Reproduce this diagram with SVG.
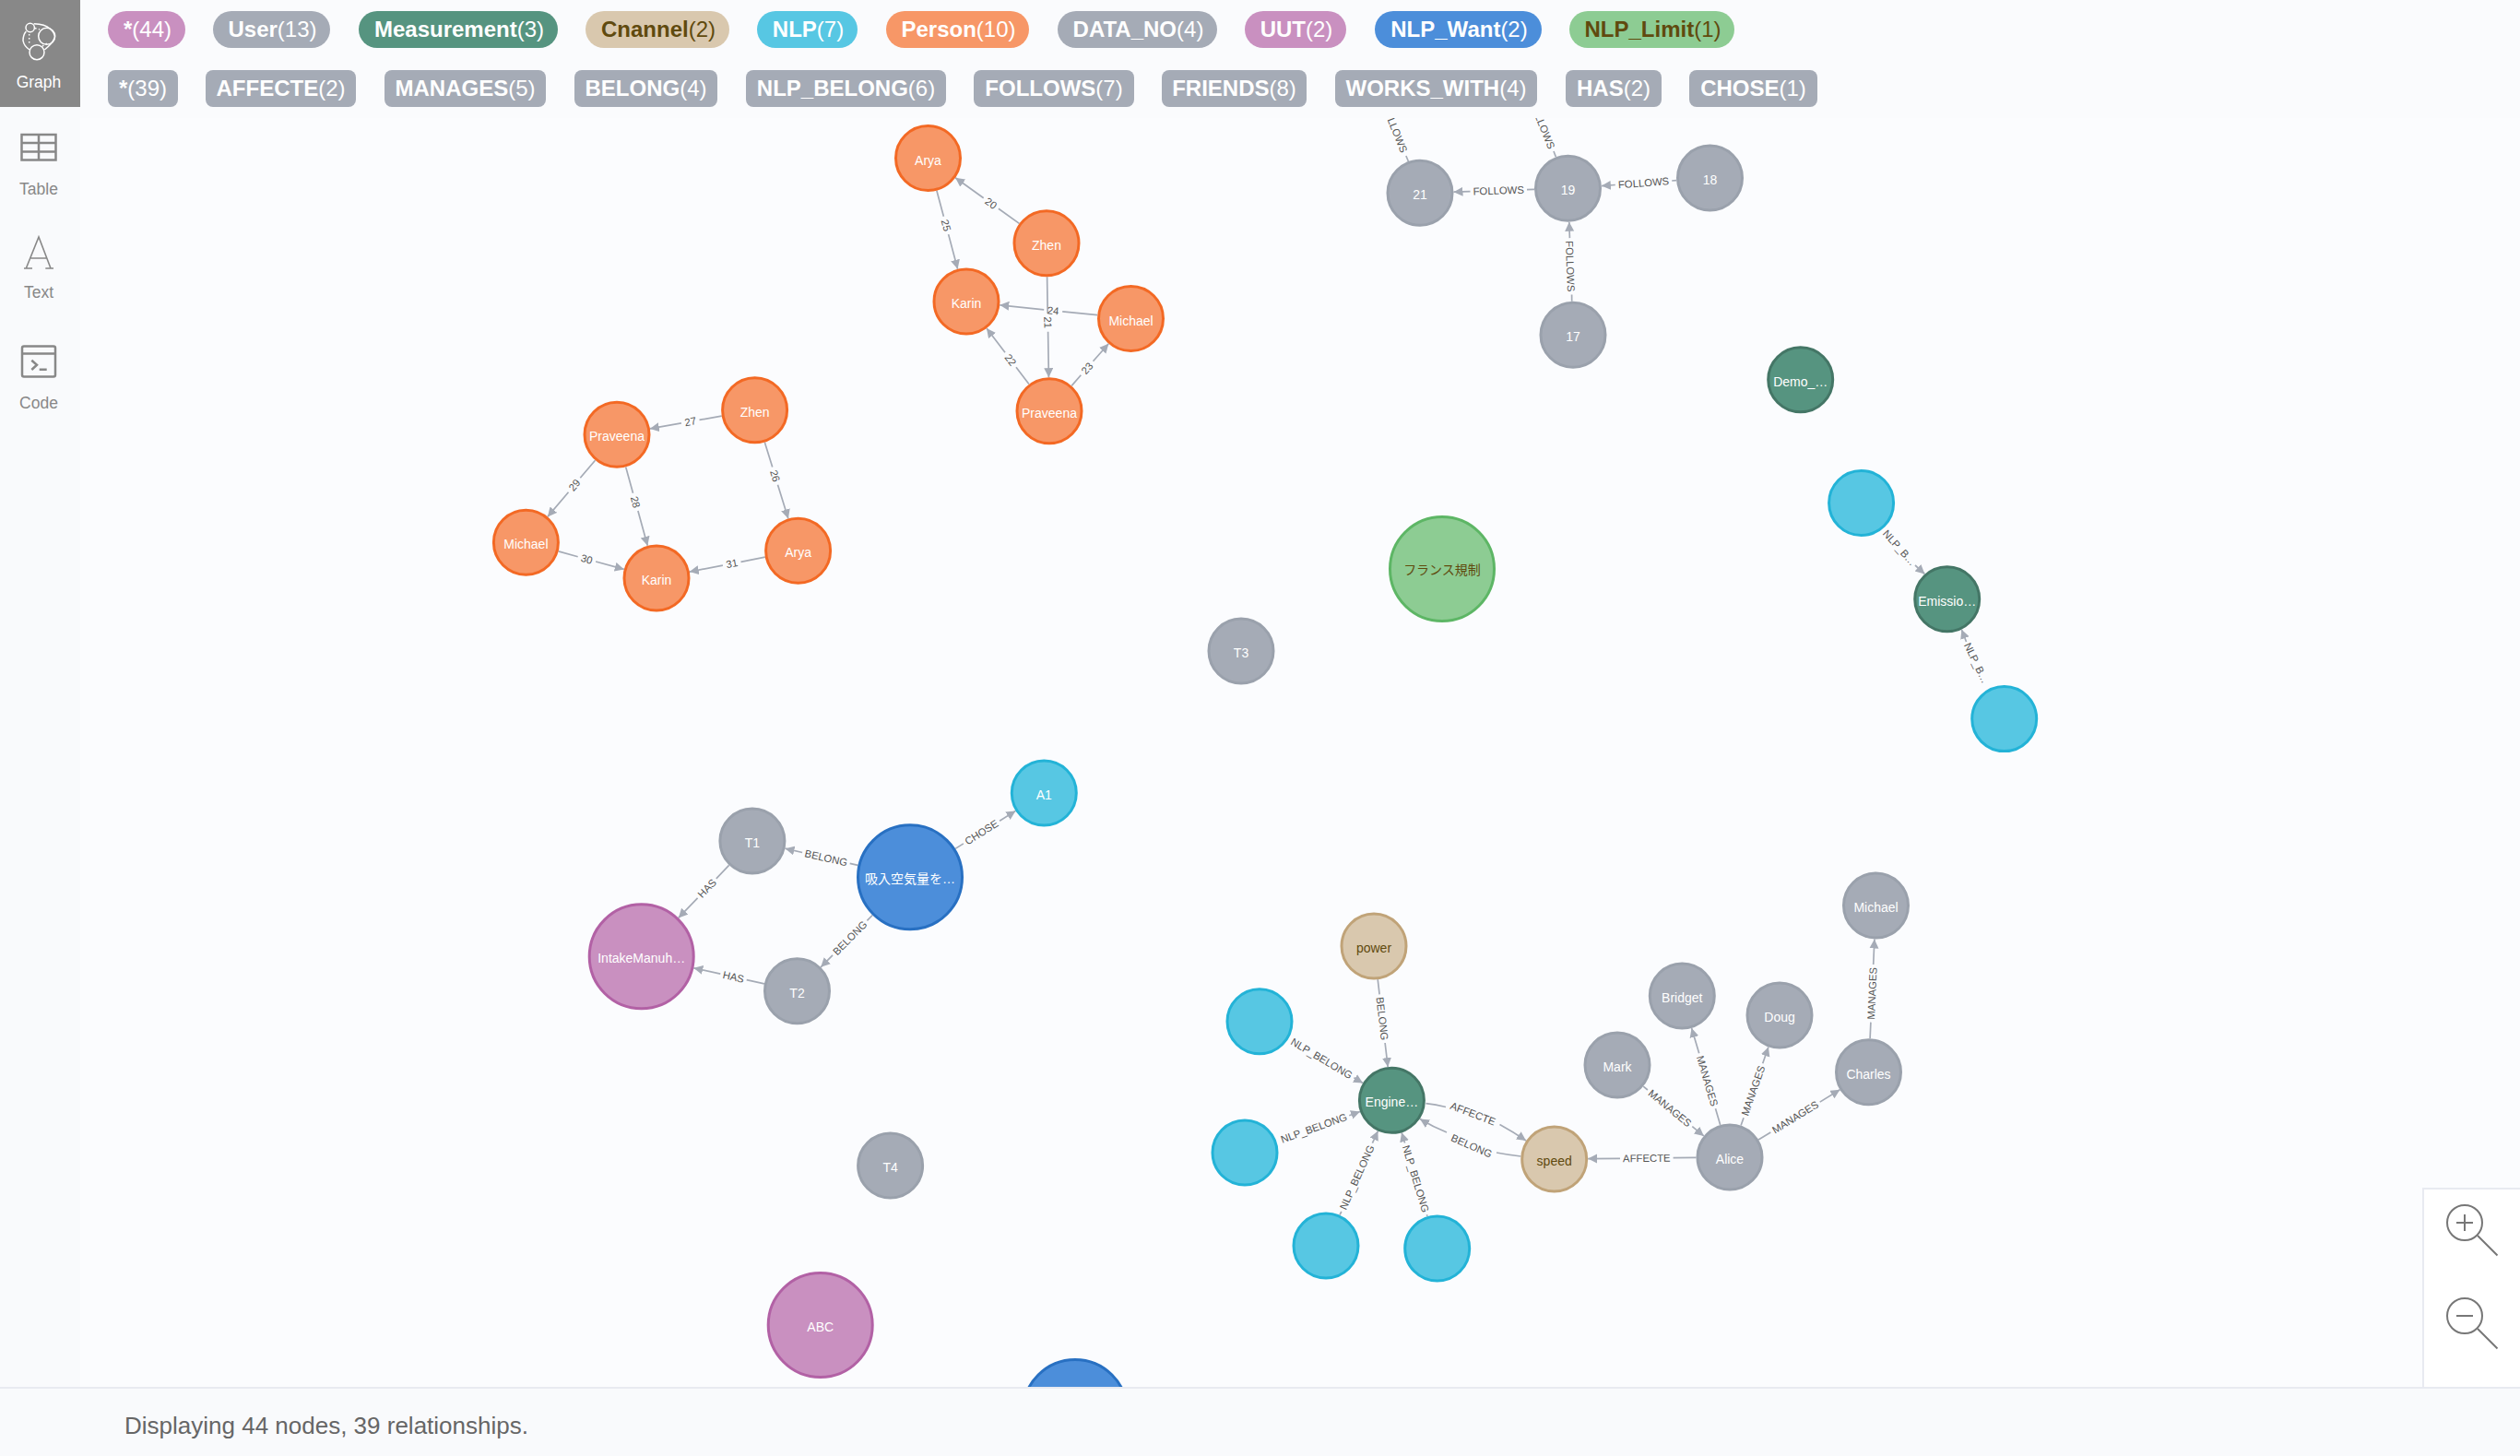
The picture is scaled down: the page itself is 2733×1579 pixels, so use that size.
<svg xmlns="http://www.w3.org/2000/svg" width="2733" height="1579" viewBox="0 0 2733 1579">
<style>
text{font-family:"Liberation Sans","Noto Sans CJK JP",Arial,sans-serif}
.n text{font-size:14px;text-anchor:middle;fill:#fff}
.n circle{stroke-width:3}
.user circle{fill:#A5ABB6;stroke:#9AA1AC}
.person circle{fill:#F79767;stroke:#F36924}
.meas circle{fill:#569480;stroke:#447666}
.nlp circle{fill:#57C7E3;stroke:#23B3D7}
.uut circle{fill:#C990C0;stroke:#B261A5}
.want circle{fill:#4C8EDA;stroke:#2870C2}
.limit circle{fill:#8DCC93;stroke:#5DB665}
.chan circle{fill:#D9C8AE;stroke:#C0A378}
.limit text,.chan text{fill:#604A0E}
#connectors path{fill:none;stroke:#A5ABB6;stroke-width:1.7;marker-end:url(#arr)}
#connectors path.stub{marker-end:none}
#connectors text{font-size:11.3px;text-anchor:middle;fill:#555}
.pill text{font-size:24px;text-anchor:middle;fill:#fff}
.pill tspan{font-weight:bold}
.pill.dark text{fill:#604A0E}
.nav text{font-size:17.5px;text-anchor:middle;fill:#888}
.ico{fill:none;stroke:#888;stroke-width:2.5}
.zm{fill:none;stroke:#777;stroke-width:2}
</style>
<defs>
<marker id="arr" markerUnits="userSpaceOnUse" markerWidth="11" markerHeight="11" refX="10" refY="5" orient="auto"><path d="M0 0L10 5L0 10Z" fill="#A5ABB6"/></marker>
<clipPath id="view"><rect x="87" y="128" width="2646" height="1376"/></clipPath>
</defs>
<rect id="canvas" width="2733" height="1579" fill="#fbfcfe"/>
<g id="graph" clip-path="url(#view)">
<g id="connectors">
<path d="M1105.4 242.4L1082.9 226.3M1066.7 214.7L1036.1 192.8"/><text x="1074.8" y="224.5" transform="rotate(35.7 1074.8 220.5)">20</text>
<path d="M1015.9 206.8L1023.4 234.7M1028.6 254.1L1038.6 291.7"/><text x="1026" y="248.4" transform="rotate(75 1026 244.4)">25</text>
<path d="M1135.6 300.2L1136.2 339.7M1136.6 359.7L1137.4 409.2"/><text x="1136.4" y="353.7" transform="rotate(89 1136.4 349.7)">21</text>
<path d="M1190.2 341.7L1152.2 337.8M1132.2 335.8L1084.3 330.8"/><text x="1142.2" y="340.8" transform="rotate(5.9 1142.2 336.8)">24</text>
<path d="M1115.9 416.6L1102 398.3M1090 382.3L1070 356.1"/><text x="1096" y="394.3" transform="rotate(52.8 1096 390.3)">22</text>
<path d="M1162.2 418.4L1172.3 406.8M1185.5 391.8L1202.3 372.8"/><text x="1178.9" y="403.3" transform="rotate(-48.5 1178.9 399.3)">23</text>
<path d="M782.7 451.1L758.5 455.4M738.9 458.9L704.9 464.9"/><text x="748.7" y="461.1" transform="rotate(-10.1 748.7 457.1)">27</text>
<path d="M829.3 479.6L837.7 506.6M843.5 525.8L854.9 562.4"/><text x="840.6" y="520.2" transform="rotate(72.9 840.6 516.2)">26</text>
<path d="M678.7 506.5L686.5 534.8M691.9 554L702.3 591.8"/><text x="689.2" y="548.4" transform="rotate(74.6 689.2 544.4)">28</text>
<path d="M645.5 499.2L629.3 518.3M616.5 533.7L593.9 560.4"/><text x="622.9" y="530" transform="rotate(-49.9 622.9 526)">29</text>
<path d="M605.6 597.9L626.7 603.8M646.1 609L676.8 617.4"/><text x="636.4" y="610.4" transform="rotate(15.3 636.4 606.4)">30</text>
<path d="M829.8 604.2L803.5 609.3M783.9 613.1L747.8 620.1"/><text x="793.7" y="615.2" transform="rotate(-10.9 793.7 611.2)">31</text>
<path d="M1664 205.4L1656 205.6M1594.5 207.6L1576.5 208.2"/><text x="1625.2" y="210.6" transform="rotate(-1.8 1625.2 206.6)">FOLLOWS</text>
<path d="M1818.1 195.7L1813.2 196M1751.8 200.5L1736.9 201.6"/><text x="1782.5" y="202.3" transform="rotate(-4.2 1782.5 198.3)">FOLLOWS</text>
<path d="M1704.7 326.8L1704.6 319.5M1702.4 258.1L1701.8 240.8"/><text x="1703" y="292.8" transform="rotate(88 1703 288.8)">FOLLOWS</text>
<path class="stub" d="M1527.4 175L1524.9 169"/><text x="1512.6" y="143.3" transform="rotate(68 1512.6 139.3)">FOLLOWS</text>
<path class="stub" d="M1687.3 170L1685 164"/><text x="1672.6" y="139.3" transform="rotate(68 1672.6 135.3)">FOLLOWS</text>
<path d="M2077 613L2087.4 622.5"/><text x="2060" y="598" transform="rotate(48.2 2060 594)">NLP_B…</text>
<path d="M2132.5 696L2127.4 682.7"/><text x="2143.5" y="723" transform="rotate(64.5 2143.5 719)">NLP_B…</text>
<path d="M930.5 938.3L921.7 936.3M870.1 924.5L851.5 920.2"/><text x="895.9" y="934.4" transform="rotate(12.9 895.9 930.4)">BELONG</text>
<path d="M946.2 992.5L940.4 998.3M903 1035.9L890.2 1048.8"/><text x="921.7" y="1021.1" transform="rotate(-45.2 921.7 1017.1)">BELONG</text>
<path d="M1036.1 920.4L1044.9 914.9M1084.1 890.3L1101.4 879.4"/><text x="1064.5" y="906.6" transform="rotate(-32.1 1064.5 902.6)">CHOSE</text>
<path d="M790.6 938.4L776.8 952.8M756.6 973.8L735.8 995.4"/><text x="766.7" y="967.3" transform="rotate(-46.2 766.7 963.3)">HAS</text>
<path d="M828.9 1066.8L809.7 1062.6M781.3 1056.2L752.3 1049.8"/><text x="795.5" y="1063.4" transform="rotate(12.5 795.5 1059.4)">HAS</text>
<path d="M1494.2 1062.2L1496.1 1078.4M1502.1 1131L1505.2 1157.1"/><text x="1499.1" y="1108.7" transform="rotate(83.4 1499.1 1104.7)">BELONG</text>
<path d="M1468.4 1168.8L1478 1174.6"/><text x="1433.4" y="1151.9" transform="rotate(30.8 1433.4 1147.9)">NLP_BELONG</text>
<path d="M1463.3 1209.7L1475 1205.5"/><text x="1425" y="1227.3" transform="rotate(-19.6 1425 1223.3)">NLP_BELONG</text>
<path d="M1453 1317.7L1454.8 1313.8M1488.4 1239.6L1494.4 1226.6"/><text x="1471.6" y="1280.7" transform="rotate(-65.6 1471.6 1276.7)">NLP_BELONG</text>
<path d="M1548 1319.1L1547.4 1317.3M1523.6 1239.5L1520.1 1228.2"/><text x="1535.5" y="1282.4" transform="rotate(73 1535.5 1278.4)">NLP_BELONG</text>
<path d="M1546.4 1196.7Q1557 1197.8 1568 1200.5M1626.5 1219.5Q1642 1228 1655 1237"/><text x="1597.4" y="1211.7" transform="rotate(20.8 1597.4 1207.7)">AFFECTE</text>
<path d="M1649.5 1254Q1636 1252.5 1623 1250M1569 1228Q1554 1222 1540 1213.5"/><text x="1596" y="1246.7" transform="rotate(23.8 1596 1242.7)">BELONG</text>
<path d="M1839.5 1255.4L1814.6 1255.7M1757 1256.3L1722.2 1256.6"/><text x="1785.8" y="1260" transform="rotate(-0.6 1785.8 1256)">AFFECTE</text>
<path d="M1782.2 1178.1L1786.9 1182M1835.3 1221.6L1847.8 1231.9"/><text x="1811.1" y="1205.8" transform="rotate(39.3 1811.1 1201.8)">MANAGES</text>
<path d="M1865.7 1220L1860.5 1202.3M1842.7 1142.3L1834.6 1115"/><text x="1851.6" y="1176.3" transform="rotate(73.5 1851.6 1172.3)">MANAGES</text>
<path d="M1888.1 1220.5L1891 1212.2M1911.7 1153.2L1917.9 1135.5"/><text x="1901.3" y="1186.7" transform="rotate(-70.7 1901.3 1182.7)">MANAGES</text>
<path d="M1907.1 1235.9L1920.3 1227.9M1973.7 1195.1L1995.4 1181.8"/><text x="1947" y="1215.5" transform="rotate(-31.5 1947 1211.5)">MANAGES</text>
<path d="M2028.1 1126.2L2028.9 1108.6M2031.7 1046L2032.9 1018.5"/><text x="2030.3" y="1081.3" transform="rotate(-87.5 2030.3 1077.3)">MANAGES</text>
</g>
<g id="nodes">
<g id="n-arya1" class="n person"><circle cx="1006.5" cy="171.5" r="35"/><text x="1006.5" y="178.500">Arya</text></g>
<g id="n-zhen1" class="n person"><circle cx="1135" cy="263.7" r="35"/><text x="1135" y="270.7">Zhen</text></g>
<g id="n-karin1" class="n person"><circle cx="1048" cy="327" r="35"/><text x="1048" y="334">Karin</text></g>
<g id="n-michael1" class="n person"><circle cx="1226.5" cy="345.5" r="35"/><text x="1226.5" y="352.5">Michael</text></g>
<g id="n-praveena1" class="n person"><circle cx="1138" cy="445.7" r="35"/><text x="1138" y="452.7">Praveena</text></g>
<g id="n-zhen2" class="n person"><circle cx="818.6" cy="444.7" r="35"/><text x="818.6" y="451.7">Zhen</text></g>
<g id="n-praveena2" class="n person"><circle cx="669" cy="471.3" r="35"/><text x="669" y="478.3">Praveena</text></g>
<g id="n-michael2" class="n person"><circle cx="570.4" cy="588.3" r="35"/><text x="570.4" y="595.3">Michael</text></g>
<g id="n-karin2" class="n person"><circle cx="712" cy="627" r="35"/><text x="712" y="634">Karin</text></g>
<g id="n-arya2" class="n person"><circle cx="865.6" cy="597.3" r="35"/><text x="865.6" y="604.3">Arya</text></g>
<g id="n-21" class="n user"><circle cx="1540" cy="209.3" r="35"/><text x="1540" y="216.3">21</text></g>
<g id="n-19" class="n user"><circle cx="1700.5" cy="204.3" r="35"/><text x="1700.5" y="211.3">19</text></g>
<g id="n-18" class="n user"><circle cx="1854.5" cy="193" r="35"/><text x="1854.5" y="200">18</text></g>
<g id="n-17" class="n user"><circle cx="1706" cy="363.3" r="35"/><text x="1706" y="370.3">17</text></g>
<g id="n-demo" class="n meas"><circle cx="1952.7" cy="411.7" r="35"/><text x="1952.7" y="418.7">Demo_…</text></g>
<g id="n-nlp1" class="n nlp"><circle cx="2018.6" cy="545.5" r="35"/></g>
<g id="n-emission" class="n meas"><circle cx="2111.7" cy="649.7" r="35"/><text x="2111.7" y="656.7">Emissio…</text></g>
<g id="n-nlp2" class="n nlp"><circle cx="2173.7" cy="779.6" r="35"/></g>
<g id="n-france" class="n limit"><circle cx="1564" cy="617" r="56.5"/><text x="1564" y="623">フランス規制</text></g>
<g id="n-t3" class="n user"><circle cx="1346" cy="706" r="35"/><text x="1346" y="713">T3</text></g>
<g id="n-a1" class="n nlp"><circle cx="1132.3" cy="860" r="35"/><text x="1132.3" y="867">A1</text></g>
<g id="n-t1" class="n user"><circle cx="815.9" cy="912" r="35"/><text x="815.9" y="919">T1</text></g>
<g id="n-want1" class="n want"><circle cx="987" cy="951.3" r="56.5"/><text x="987" y="958.3">吸入空気量を…</text></g>
<g id="n-intake" class="n uut"><circle cx="695.7" cy="1037.3" r="56.5"/><text x="695.7" y="1044.3">IntakeManuh…</text></g>
<g id="n-t2" class="n user"><circle cx="864.5" cy="1074.7" r="35"/><text x="864.5" y="1081.7">T2</text></g>
<g id="n-t4" class="n user"><circle cx="965.6" cy="1264" r="35"/><text x="965.6" y="1271">T4</text></g>
<g id="n-abc" class="n uut"><circle cx="889.7" cy="1437" r="56.5"/><text x="889.7" y="1444">ABC</text></g>
<g id="n-want2" class="n want"><circle cx="1166" cy="1531" r="56.5"/></g>
<g id="n-power" class="n chan"><circle cx="1490" cy="1026" r="35"/><text x="1490" y="1033">power</text></g>
<g id="n-nlp3" class="n nlp"><circle cx="1366" cy="1107.7" r="35"/></g>
<g id="n-engine" class="n meas"><circle cx="1509.4" cy="1193.3" r="35"/><text x="1509.4" y="1200.3">Engine…</text></g>
<g id="n-nlp4" class="n nlp"><circle cx="1350" cy="1250" r="35"/></g>
<g id="n-nlp5" class="n nlp"><circle cx="1438" cy="1351" r="35"/></g>
<g id="n-nlp6" class="n nlp"><circle cx="1558.7" cy="1354" r="35"/></g>
<g id="n-speed" class="n chan"><circle cx="1685.7" cy="1257" r="35"/><text x="1685.7" y="1264">speed</text></g>
<g id="n-alice" class="n user"><circle cx="1876" cy="1255" r="35"/><text x="1876" y="1262">Alice</text></g>
<g id="n-mark" class="n user"><circle cx="1754" cy="1155" r="35"/><text x="1754" y="1162">Mark</text></g>
<g id="n-bridget" class="n user"><circle cx="1824.3" cy="1080" r="35"/><text x="1824.3" y="1087">Bridget</text></g>
<g id="n-doug" class="n user"><circle cx="1930" cy="1101" r="35"/><text x="1930" y="1108">Doug</text></g>
<g id="n-charles" class="n user"><circle cx="2026.5" cy="1162.7" r="35"/><text x="2026.5" y="1169.7">Charles</text></g>
<g id="n-michael3" class="n user"><circle cx="2034.5" cy="982" r="35"/><text x="2034.5" y="989">Michael</text></g>
</g>
</g>
<g id="sidebar" class="nav">
<rect x="0" y="0" width="87" height="1504" fill="#f9fafc"/>
<rect x="0" y="0" width="87" height="116" fill="#888"/>
<g fill="none" stroke="#fff" stroke-width="1.5"><circle cx="50.7" cy="39.3" r="9"/><circle cx="32.7" cy="30" r="4.7"/><circle cx="40" cy="56.7" r="8"/><path d="M36.7 25.7Q49 26 54 31Q60 36 59.3 41Q57 47 48.300 54M28.300 34Q25 38 25 44Q26 50 32 54"/><path d="M31.7 37V48M38 30.500L43 32M46 50L51 47" stroke-dasharray="1.600 2.400"/></g>
<text x="42" y="94.5" style="fill:#fff">Graph</text>
<path class="ico" d="M23.5 146H60.5V173.5H23.5ZM42 146V173.5M23.5 155H60.5M23.5 164.5H60.5"/>
<text x="42" y="211">Table</text>
<path d="M28.3 291L42 257L55 291M33.5 280H50.5M26 291H35M49.3 291H58" fill="none" stroke="#888" stroke-width="1.6"/>
<text x="42" y="323">Text</text>
<rect class="ico" x="24" y="375.5" width="36" height="33" rx="2"/>
<path class="ico" d="M24 383.5H60M34.3 390.7L40 395.7L34.3 401M42.7 400.8H50.7"/>
<text x="42" y="443">Code</text>
</g>
<g id="topbar">
<rect x="87" y="0" width="2646" height="128" fill="#fafbfd"/>
<g class="pill"><rect x="117" y="12" width="84" height="40" rx="20" fill="#C990C0"/><text x="160" y="40"><tspan>*</tspan>(44)</text></g>
<g class="pill"><rect x="231" y="12" width="127" height="40" rx="20" fill="#A5ABB6"/><text x="295.5" y="40"><tspan>User</tspan>(13)</text></g>
<g class="pill"><rect x="389" y="12" width="216" height="40" rx="20" fill="#569480"/><text x="498" y="40"><tspan>Measurement</tspan>(3)</text></g>
<g class="pill dark"><rect x="635" y="12" width="156" height="40" rx="20" fill="#D9C8AE"/><text x="714" y="40"><tspan>Cnannel</tspan>(2)</text></g>
<g class="pill"><rect x="821" y="12" width="109" height="40" rx="20" fill="#57C7E3"/><text x="876.5" y="40"><tspan>NLP</tspan>(7)</text></g>
<g class="pill"><rect x="961" y="12" width="155" height="40" rx="20" fill="#F79767"/><text x="1039.5" y="40"><tspan>Person</tspan>(10)</text></g>
<g class="pill"><rect x="1147" y="12" width="173" height="40" rx="20" fill="#A5ABB6"/><text x="1234.5" y="40"><tspan>DATA_NO</tspan>(4)</text></g>
<g class="pill"><rect x="1350" y="12" width="110" height="40" rx="20" fill="#C990C0"/><text x="1406" y="40"><tspan>UUT</tspan>(2)</text></g>
<g class="pill"><rect x="1491" y="12" width="181" height="40" rx="20" fill="#4C8EDA"/><text x="1582.5" y="40"><tspan>NLP_Want</tspan>(2)</text></g>
<g class="pill dark"><rect x="1702" y="12" width="179" height="40" rx="20" fill="#8DCC93"/><text x="1792.5" y="40"><tspan>NLP_Limit</tspan>(1)</text></g>
<g class="pill"><rect x="117" y="76" width="76" height="40" rx="8" fill="#A5ABB6"/><text x="155" y="104"><tspan>*</tspan>(39)</text></g>
<g class="pill"><rect x="223" y="76" width="163" height="40" rx="8" fill="#A5ABB6"/><text x="304.5" y="104"><tspan>AFFECTE</tspan>(2)</text></g>
<g class="pill"><rect x="417" y="76" width="175" height="40" rx="8" fill="#A5ABB6"/><text x="504.5" y="104"><tspan>MANAGES</tspan>(5)</text></g>
<g class="pill"><rect x="623" y="76" width="155" height="40" rx="8" fill="#A5ABB6"/><text x="700.5" y="104"><tspan>BELONG</tspan>(4)</text></g>
<g class="pill"><rect x="809" y="76" width="217" height="40" rx="8" fill="#A5ABB6"/><text x="917.5" y="104"><tspan>NLP_BELONG</tspan>(6)</text></g>
<g class="pill"><rect x="1056" y="76" width="174" height="40" rx="8" fill="#A5ABB6"/><text x="1143" y="104"><tspan>FOLLOWS</tspan>(7)</text></g>
<g class="pill"><rect x="1260" y="76" width="157" height="40" rx="8" fill="#A5ABB6"/><text x="1338.5" y="104"><tspan>FRIENDS</tspan>(8)</text></g>
<g class="pill"><rect x="1448" y="76" width="219" height="40" rx="8" fill="#A5ABB6"/><text x="1557.5" y="104"><tspan>WORKS_WITH</tspan>(4)</text></g>
<g class="pill"><rect x="1698" y="76" width="104" height="40" rx="8" fill="#A5ABB6"/><text x="1750" y="104"><tspan>HAS</tspan>(2)</text></g>
<g class="pill"><rect x="1832" y="76" width="139" height="40" rx="8" fill="#A5ABB6"/><text x="1901.5" y="104"><tspan>CHOSE</tspan>(1)</text></g>
</g>
<g id="zoom-panel">
<rect x="2628" y="1289" width="106" height="216" fill="#fff" stroke="#e8eaf1" stroke-width="2"/>
<circle class="zm" cx="2673" cy="1326" r="19"/><path class="zm" d="M2687 1340L2708.500 1361.500M2664 1326H2682M2673 1317V1335"/>
<circle class="zm" cx="2673" cy="1427" r="19"/><path class="zm" d="M2687 1441L2708.500 1462.500M2664 1427H2682"/>
</g>
<g id="footer">
<rect x="0" y="1505" width="2733" height="74" fill="#f9fafc"/>
<rect x="0" y="1504" width="2733" height="2" fill="#e8eaf1"/>
<text x="135" y="1555" font-size="26" fill="#666">Displaying 44 nodes, 39 relationships.</text>
</g>
</svg>
